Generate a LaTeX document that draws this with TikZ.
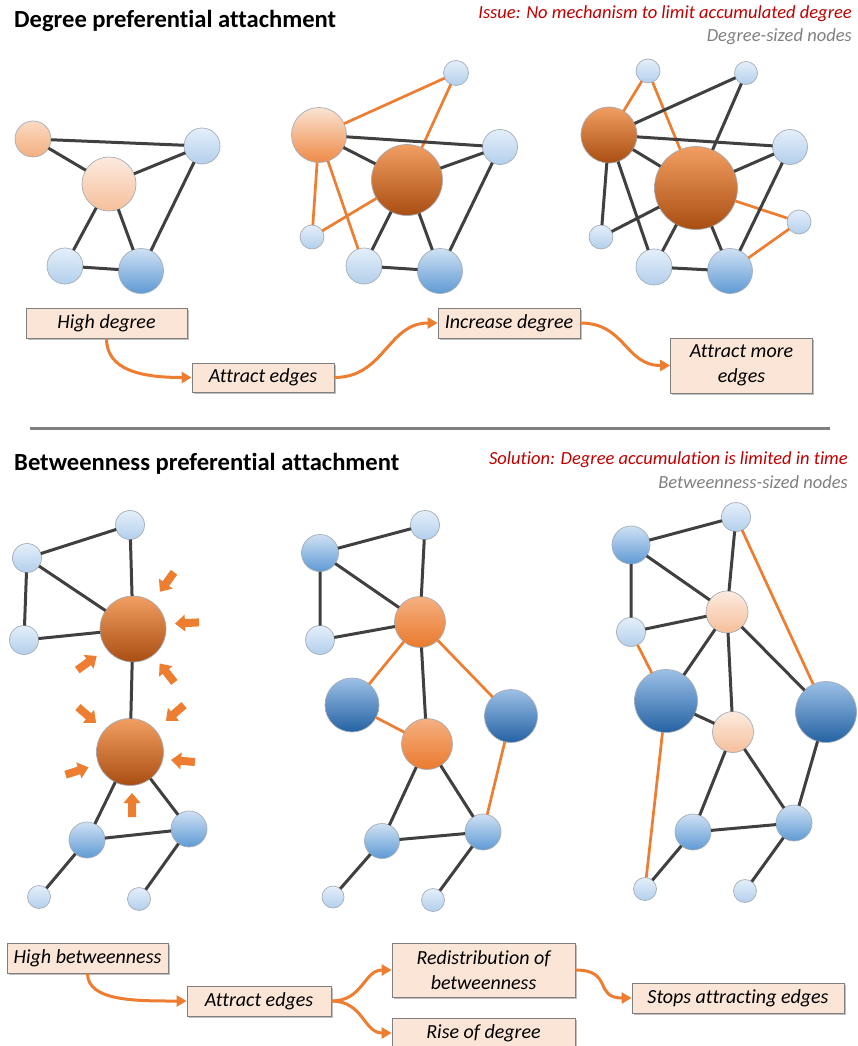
\documentclass[tikz,border=0pt]{standalone}
\usepackage{fontspec}
\setmainfont{Carlito}[Ligatures=NoCommon]
\usetikzlibrary{arrows.meta,shadows}
\definecolor{lbT}{HTML}{E4EFFA}\definecolor{lbB}{HTML}{B3CFEC}
\definecolor{mbT}{HTML}{CFE1F4}\definecolor{mbB}{HTML}{5E9AD4}
\definecolor{dbT}{HTML}{9CC0E6}\definecolor{dbB}{HTML}{2462A3}
\definecolor{peT}{HTML}{FCEBDF}\definecolor{peB}{HTML}{F6BF9A}
\definecolor{paT}{HTML}{FBDAC3}\definecolor{paB}{HTML}{F3AE7E}
\definecolor{olT}{HTML}{FBE3D2}\definecolor{olB}{HTML}{EE8A47}
\definecolor{omT}{HTML}{F5B080}\definecolor{omB}{HTML}{EA7A2E}
\definecolor{osT}{HTML}{F29E62}\definecolor{osB}{HTML}{A94E12}
\definecolor{ndborder}{HTML}{A5ADB8}
\definecolor{edgegray}{HTML}{404040}
\definecolor{edgeorange}{HTML}{ED7D31}
\definecolor{boxfill}{HTML}{FBE5D6}
\definecolor{boxborder}{HTML}{7F7F7F}
\definecolor{txtred}{HTML}{C00000}
\definecolor{txtgray}{HTML}{808080}
\newcommand{\blkarrow}[3]{\fill[edgeorange, shift={(#1,#2)}, rotate=#3] (-12,-4) -- (2,-4) -- (2,-8.5) -- (12,0) -- (2,8.5) -- (2,4) -- (-12,4) -- cycle;}
\begin{document}
\begin{tikzpicture}[x=1pt,y=-1pt,
  nd/.style={circle, inner sep=0pt, outer sep=0pt, draw=ndborder, line width=0.7pt},
  nLB/.style={nd, top color=lbT, bottom color=lbB},
  nMB/.style={nd, top color=mbT, bottom color=mbB},
  nDB/.style={nd, top color=dbT, bottom color=dbB},
  nPE/.style={nd, top color=peT, bottom color=peB},
  nPA/.style={nd, top color=paT, bottom color=paB},
  nOL/.style={nd, top color=olT, bottom color=olB},
  nOM/.style={nd, top color=omT, bottom color=omB},
  nOS/.style={nd, top color=osT, bottom color=osB},
  eg/.style={draw=edgegray, line width=3pt},
  eo/.style={draw=edgeorange, line width=2.7pt},
  fbox/.style={draw=boxborder, fill=boxfill, line width=0.8pt, inner sep=2pt, align=center,
    font=\fontsize{20}{25.5}\selectfont\itshape,
    drop shadow={shadow xshift=1.5pt, shadow yshift=-1.5pt, fill=black, opacity=0.25}},
  farrow/.style={draw=edgeorange, line width=3pt, -{Triangle[length=10pt,width=11pt]}},
  ttl/.style={inner sep=0pt, anchor=base west, font=\fontsize{24.6}{28}\selectfont\bfseries},
  rtxt/.style={inner sep=0pt, anchor=base east, text=txtred, font=\fontsize{18.5}{21}\selectfont\itshape},
  gtxt/.style={inner sep=0pt, anchor=base east, text=txtgray, font=\fontsize{18.5}{21}\selectfont\itshape}
]
\useasboundingbox (0,0) rectangle (857,1046);
\clip (0,0) rectangle (857,1046);
\fill[white] (0,0) rectangle (857,1046);

% titles
\node[ttl] (t1) at (14,28) {Degree preferential attachment};
\node[rtxt] (r1) at (852,19) {Issue: No mechanism to limit accumulated degree};
\node[gtxt] (s1) at (852,42) {Degree-sized nodes};
\node[ttl] (t2) at (14,470) {Betweenness preferential attachment};
\node[rtxt] (r2) at (848,464) {Solution: Degree accumulation is limited in time};
\node[gtxt] (s2) at (848,488) {Betweenness-sized nodes};

% separator
\draw[txtgray, line width=3pt] (30,428) -- (830,428);

% ---- top graph 1
\node[nPA, minimum size=36] (g1a) at (33,139) {};
\node[nPE, minimum size=54] (g1b) at (109,184) {};
\node[nLB, minimum size=36] (g1c) at (202,146) {};
\node[nLB, minimum size=36] (g1d) at (65,266) {};
\node[nMB, minimum size=45] (g1e) at (141,271) {};
\path[eg] (g1a) -- (g1c) (g1a) -- (g1b) (g1b) -- (g1c) (g1b) -- (g1d) (g1b) -- (g1e) (g1d) -- (g1e) (g1c) -- (g1e);

% ---- top graph 2
\node[nLB, minimum size=25] (g2p) at (456,73) {};
\node[nOL, minimum size=55] (g2q) at (319,135) {};
\node[nLB, minimum size=35] (g2r) at (500,147) {};
\node[nOS, minimum size=71] (g2s) at (407,180) {};
\node[nLB, minimum size=24] (g2t) at (312,237) {};
\node[nLB, minimum size=36] (g2u) at (364,266) {};
\node[nMB, minimum size=45] (g2v) at (440,271) {};
\path[eo] (g2q) -- (g2p) (g2s) -- (g2p) (g2q) -- (g2t) (g2q) -- (g2u) (g2s) -- (g2t);
\path[eg] (g2q) -- (g2r) (g2q) -- (g2s) (g2s) -- (g2r) (g2s) -- (g2u) (g2s) -- (g2v) (g2u) -- (g2v) (g2r) -- (g2v);

% ---- top graph 3
\node[nLB, minimum size=24] (g3a) at (648,71) {};
\node[nLB, minimum size=23] (g3b) at (746,73) {};
\node[nOS, minimum size=56] (g3c) at (609,135) {};
\node[nLB, minimum size=35] (g3d) at (790,147) {};
\node[nOS, minimum size=83] (g3e) at (696,188) {};
\node[nLB, minimum size=24] (g3f) at (799,222) {};
\node[nLB, minimum size=24] (g3g) at (601,237) {};
\node[nLB, minimum size=36] (g3h) at (654,267) {};
\node[nMB, minimum size=45] (g3i) at (730,271) {};
\path[eo] (g3c) -- (g3a) (g3a) -- (g3e) (g3e) -- (g3f) (g3f) -- (g3i);
\path[eg] (g3c) -- (g3b) (g3b) -- (g3e) (g3c) -- (g3d) (g3c) -- (g3e) (g3e) -- (g3d) (g3c) -- (g3g) (g3c) -- (g3h) (g3e) -- (g3g) (g3e) -- (g3h) (g3e) -- (g3i) (g3h) -- (g3i) (g3d) -- (g3i);

% ---- top flow
\node[fbox, minimum width=161, minimum height=30] (hd) at (106.5,323) {High degree};
\node[fbox, minimum width=142, minimum height=29] (ae) at (263,377.5) {Attract edges};
\node[fbox, minimum width=142, minimum height=30] (id) at (509,323) {Increase degree};
\node[fbox, minimum width=142, minimum height=55] (am) at (741.5,365.5) {Attract more\\edges};
\draw[farrow] (hd.south) .. controls +(0,32) and +(-50,0) .. (ae.west);
\draw[farrow] (ae.east) .. controls +(50,0) and +(-50,0) .. (id.west);
\draw[farrow] (id.east) .. controls +(45,0) and +(-45,0) .. (am.west);

% ---- bottom graph 1
\node[nLB, minimum size=29] (b1a) at (130,525) {};
\node[nLB, minimum size=29] (b1b) at (27,558) {};
\node[nLB, minimum size=29] (b1c) at (24,640) {};
\node[nOS, minimum size=66] (b1d) at (133,629) {};
\node[nOS, minimum size=67] (b1e) at (130,752) {};
\node[nMB, minimum size=36] (b1f) at (87,840) {};
\node[nMB, minimum size=36] (b1g) at (189,829) {};
\node[nLB, minimum size=23] (b1h) at (39,897) {};
\node[nLB, minimum size=23] (b1i) at (139,899) {};
\path[eg] (b1b) -- (b1a) (b1b) -- (b1c) (b1b) -- (b1d) (b1a) -- (b1d) (b1c) -- (b1d) (b1d) -- (b1e) (b1e) -- (b1f) (b1e) -- (b1g) (b1f) -- (b1g) (b1f) -- (b1h) (b1g) -- (b1i);
\blkarrow{167}{582}{234}
\blkarrow{187}{623}{183}
\blkarrow{87}{663}{36}
\blkarrow{167}{673}{128}
\blkarrow{87}{715}{319}
\blkarrow{175}{713}{221}
\blkarrow{183}{761}{175}
\blkarrow{77}{771}{18}
\blkarrow{132}{805}{90}

% ---- bottom graph 2
\node[nLB, minimum size=29] (b2a) at (425,525) {};
\node[nMB, minimum size=37] (b2b) at (320,553) {};
\node[nLB, minimum size=29] (b2c) at (320,640) {};
\node[nOM, minimum size=51] (b2d) at (420,622) {};
\node[nDB, minimum size=54] (b2e) at (352,705) {};
\node[nDB, minimum size=53] (b2f) at (511,716) {};
\node[nOM, minimum size=51] (b2g) at (427,744) {};
\node[nMB, minimum size=35] (b2h) at (382,841) {};
\node[nMB, minimum size=36] (b2i) at (483,832) {};
\node[nLB, minimum size=22] (b2j) at (333,897) {};
\node[nLB, minimum size=23] (b2k) at (433,900) {};
\path[eg] (b2b) -- (b2a) (b2b) -- (b2c) (b2b) -- (b2d) (b2a) -- (b2d) (b2c) -- (b2d) (b2d) -- (b2g) (b2g) -- (b2h) (b2g) -- (b2i) (b2h) -- (b2i) (b2h) -- (b2j) (b2i) -- (b2k);
\path[eo] (b2d) -- (b2e) (b2e) -- (b2g) (b2d) -- (b2f) (b2f) -- (b2i);

% ---- bottom graph 3
\node[nLB, minimum size=29] (b3a) at (736,517) {};
\node[nMB, minimum size=38] (b3b) at (631,545) {};
\node[nLB, minimum size=29] (b3c) at (631,632) {};
\node[nPE, minimum size=42] (b3d) at (727,612) {};
\node[nDB, minimum size=63] (b3e) at (666,701) {};
\node[nDB, minimum size=61] (b3f) at (826,712) {};
\node[nPE, minimum size=41] (b3g) at (733,732) {};
\node[nMB, minimum size=36] (b3h) at (693,832) {};
\node[nMB, minimum size=36] (b3i) at (794,823) {};
\node[nLB, minimum size=23] (b3j) at (645,889) {};
\node[nLB, minimum size=23] (b3k) at (745,891) {};
\path[eg] (b3b) -- (b3a) (b3b) -- (b3c) (b3b) -- (b3d) (b3a) -- (b3d) (b3c) -- (b3d) (b3d) -- (b3e) (b3d) -- (b3g) (b3d) -- (b3f) (b3e) -- (b3g) (b3g) -- (b3h) (b3g) -- (b3i) (b3h) -- (b3i) (b3f) -- (b3i) (b3h) -- (b3j) (b3i) -- (b3k);
\path[eo] (b3a) -- (b3f) (b3c) -- (b3e) (b3e) -- (b3j);

% ---- bottom flow
\node[fbox, minimum width=161, minimum height=30] (hb) at (87.5,958) {High betweenness};
\node[fbox, minimum width=144, minimum height=30] (ae2) at (259,1001) {Attract edges};
\node[fbox, minimum width=183, minimum height=54] (rd) at (483.5,970) {Redistribution of\\betweenness};
\node[fbox, minimum width=183, minimum height=30] (rod) at (483.5,1033) {Rise of degree};
\node[fbox, minimum width=212, minimum height=30] (st) at (738,998) {Stops attracting edges};
\draw[farrow] (hb.south) .. controls +(0,28) and +(-50,0) .. (ae2.west);
\draw[farrow] (ae2.east) .. controls +(32,0) and +(-28,0) .. (rd.west);
\draw[farrow] (ae2.east) .. controls +(32,0) and +(-28,0) .. (rod.west);
\draw[farrow] (rd.east) .. controls +(38,0) and +(-38,0) .. (st.west);
\end{tikzpicture}
\end{document}
